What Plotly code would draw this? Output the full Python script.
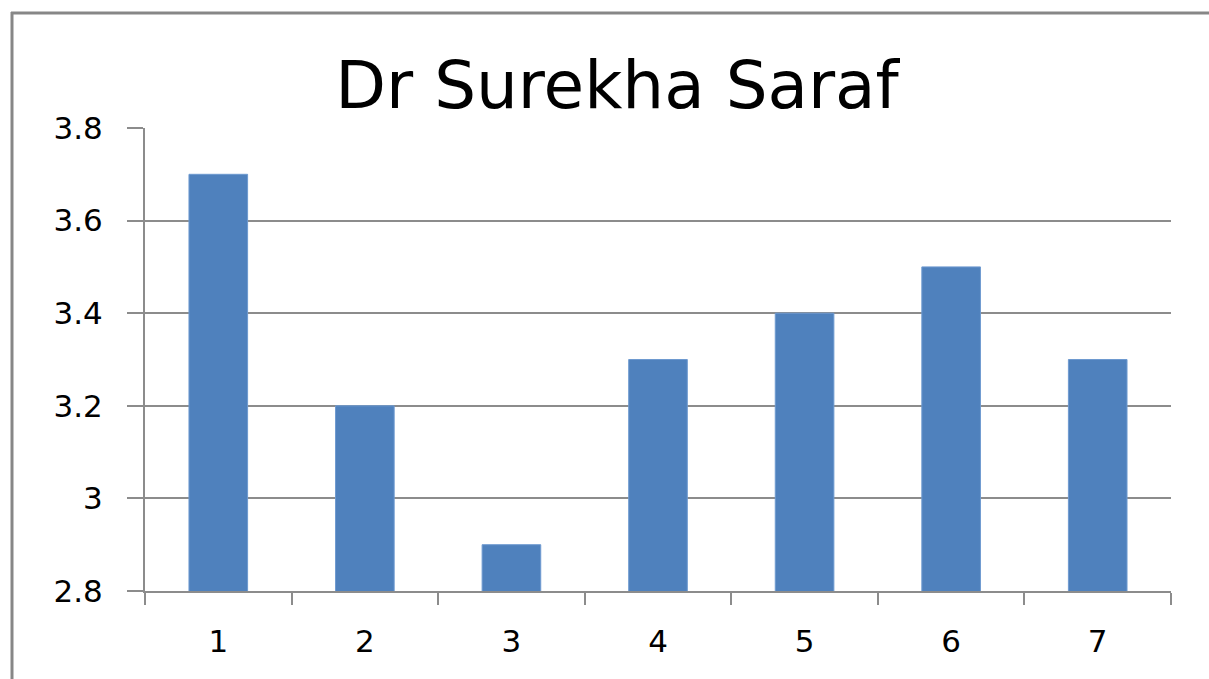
import plotly.graph_objects as go

categories = ["1", "2", "3", "4", "5", "6", "7"]
values = [3.7, 3.2, 2.9, 3.3, 3.4, 3.5, 3.3]
y_ticks = [2.8, 3.0, 3.2, 3.4, 3.6, 3.8]
y_tick_text = ["2.8", "3", "3.2", "3.4", "3.6", "3.8"]
title_text = "Dr Surekha Saraf"

W, H = 1209, 679
L, T = 145, 128
R = W - 1171
B = H - 591
pw, ph = W - L - R, H - T - B

def px(x):
    return (x - L) / pw

def py(y):
    return (H - B - y) / ph

fig = go.Figure(go.Bar(
    x=categories, y=values,
    marker=dict(color="#4F81BD", line=dict(color="#6E9AD0", width=1)),
    width=0.4,
))

grid = "#8C8C8C"
fig.update_layout(
    width=W, height=H,
    margin=dict(l=L, r=R, t=T, b=B),
    paper_bgcolor="white", plot_bgcolor="white",
    showlegend=False,
    title=dict(text=title_text, xref="container", x=617 / W, xanchor="center",
               yref="container", y=1 - 85 / H, yanchor="middle",
               font=dict(family="DejaVu Sans", size=66, color="black")),
    xaxis=dict(type="category", tickson="boundaries", ticks="outside", ticklen=12,
               tickcolor=grid, tickwidth=2, showline=True, linecolor=grid, linewidth=2,
               showgrid=False, tickfont=dict(family="DejaVu Sans", size=31, color="black"),
               ticklabelstandoff=22, range=[-0.5, 6.5]),
    yaxis=dict(range=[2.8, 3.8], tickvals=y_ticks, ticktext=y_tick_text,
               ticks="outside", ticklen=16, tickcolor=grid, tickwidth=2,
               showline=True, linecolor=grid, linewidth=2,
               showgrid=True, gridcolor=grid, gridwidth=1.5, zeroline=False,
               tickfont=dict(family="DejaVu Sans", size=31, color="black"),
               ticklabelstandoff=18),
    shapes=[
        dict(type="line", xref="paper", yref="paper", x0=px(11), x1=px(W + 5),
             y0=py(13), y1=py(13), line=dict(color="#878787", width=3)),
        dict(type="line", xref="paper", yref="paper", x0=px(12), x1=px(12),
             y0=py(12), y1=py(H + 5), line=dict(color="#878787", width=3)),
    ],
)

fig.write_html(
    "out.html",
    config={"displayModeBar": False},
    post_script="document.body.style.margin='0px';document.body.style.overflow='hidden';",
)
